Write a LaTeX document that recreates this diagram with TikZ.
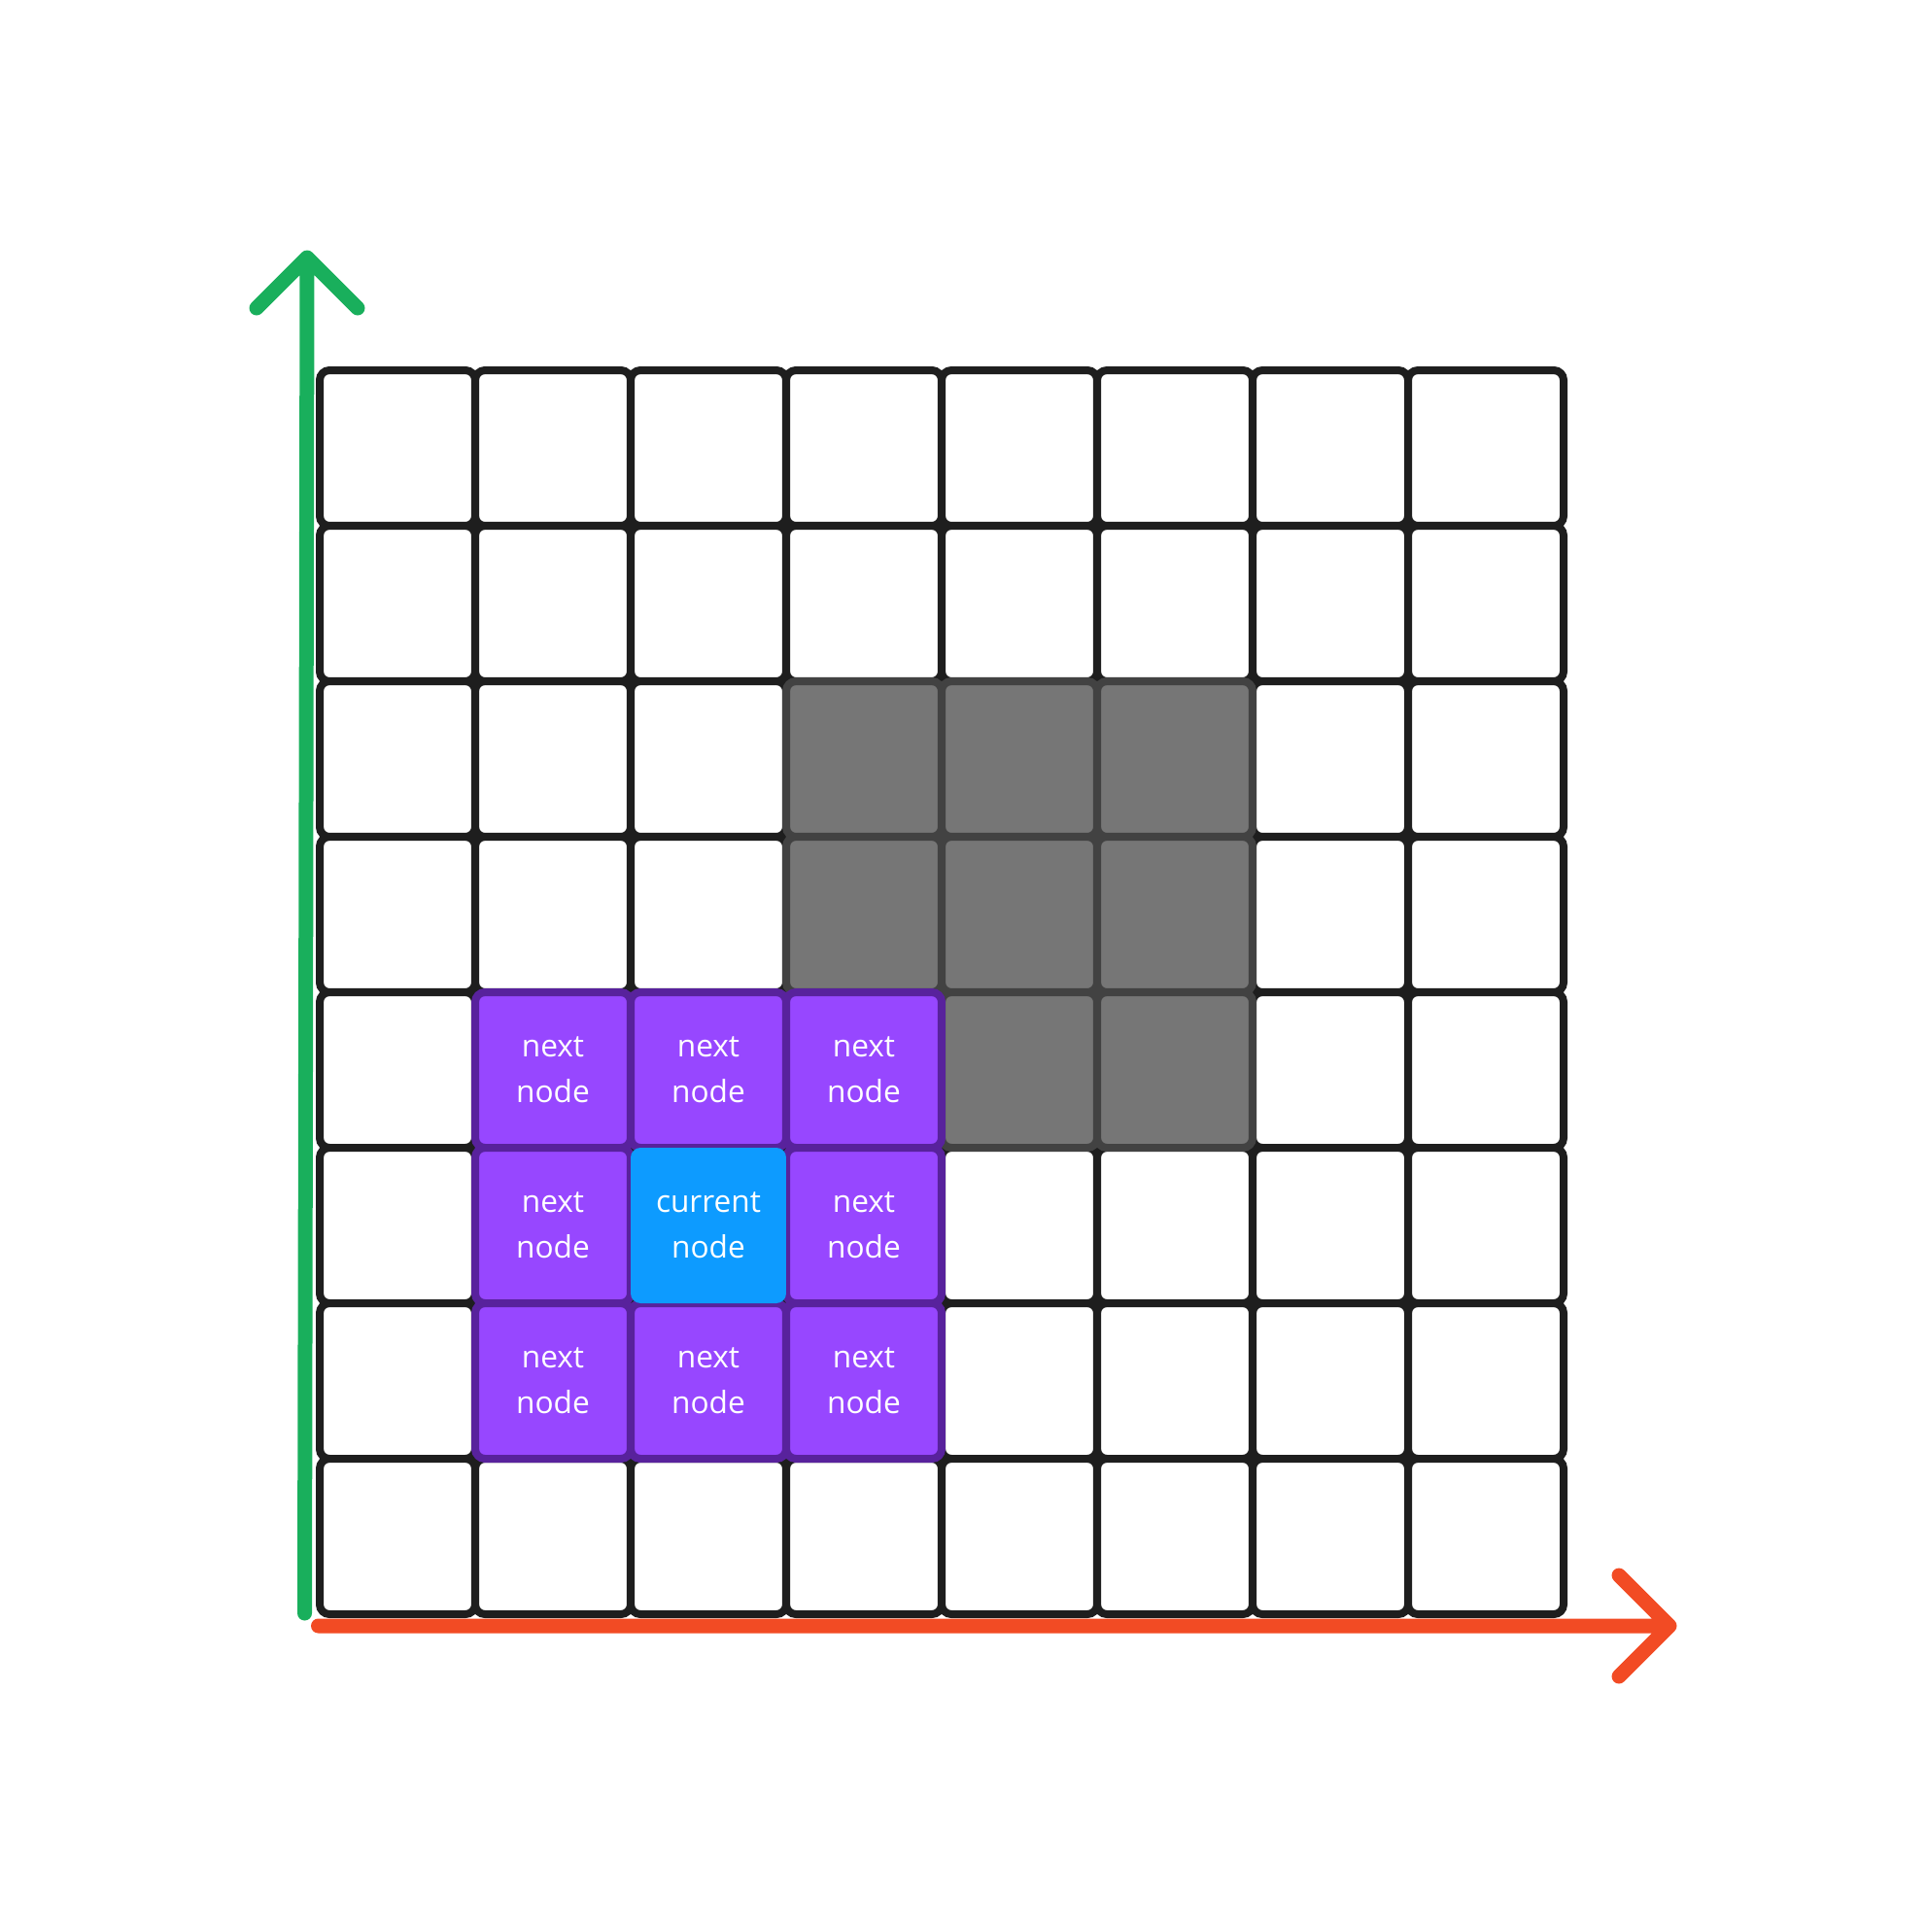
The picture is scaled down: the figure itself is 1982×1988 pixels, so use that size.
\documentclass[tikz,border=0pt]{standalone}
\usepackage{fontspec}
\setmainfont{Open Sans}
\usetikzlibrary{positioning}

\definecolor{gridblack}{HTML}{1E1E1E}
\definecolor{wallgrey}{HTML}{767676}
\definecolor{wallborder}{HTML}{424242}
\definecolor{nextpurple}{HTML}{9747FF}
\definecolor{nextborder}{HTML}{58229C}
\definecolor{currentblue}{HTML}{0D9BFF}
\definecolor{axisgreen}{HTML}{19AF5C}
\definecolor{axisred}{HTML}{F24B24}

\begin{document}
\begin{tikzpicture}[
  x=0.02cm, y=-0.02cm,
  cell/.style={draw=gridblack, fill=white, line width=0.16cm, rounded corners=0.2cm,
    minimum size=3.2cm, inner sep=0pt},
  wall/.style={cell, draw=wallborder, fill=wallgrey},
  nextcell/.style={cell, draw=nextborder, fill=nextpurple, text=white, align=center,
    font=\fontsize{18}{26.7}\selectfont},
  currentcell/.style={nextcell, draw=none},
  axis/.style={line width=0.3cm, line cap=round, line join=round}
]
\useasboundingbox (0,0) rectangle (1982,1988);

% Empty grid, 8 x 8 cells.
\foreach \c in {0,...,7} {
  \foreach \r in {0,...,7} {
    \node[cell] (g-\c-\r) at (409+160*\c, 461+160*\r) {};
  }
}

% Blocked cells.
\foreach \c/\r in {3/2,4/2,5/2,3/3,4/3,5/3,4/4,5/4} {
  \node[wall] (w-\c-\r) at (g-\c-\r) {};
}

% Neighbours of the current node.
\foreach \c/\r in {1/4,2/4,3/4,1/5,3/5,1/6,2/6,3/6} {
  \node[nextcell] (n-\c-\r) at (g-\c-\r) {next\\node};
}
\node[currentcell, fill=currentblue] (cur) at (g-2-5) {current\\node};

% Axes.
\coordinate (ytail) at (313.5,1660);
\coordinate (yhead) at (316,265);
\coordinate (xtail) at (327.5,1673);
\coordinate (xhead) at (1718,1673);

\draw[axis, axisgreen] (ytail) -- (yhead) +(-52,52) -- (yhead) -- +(52,52);
\draw[axis, axisred] (xtail) -- (xhead) +(-52,-52) -- (xhead) -- +(-52,52);

\end{tikzpicture}
\end{document}
